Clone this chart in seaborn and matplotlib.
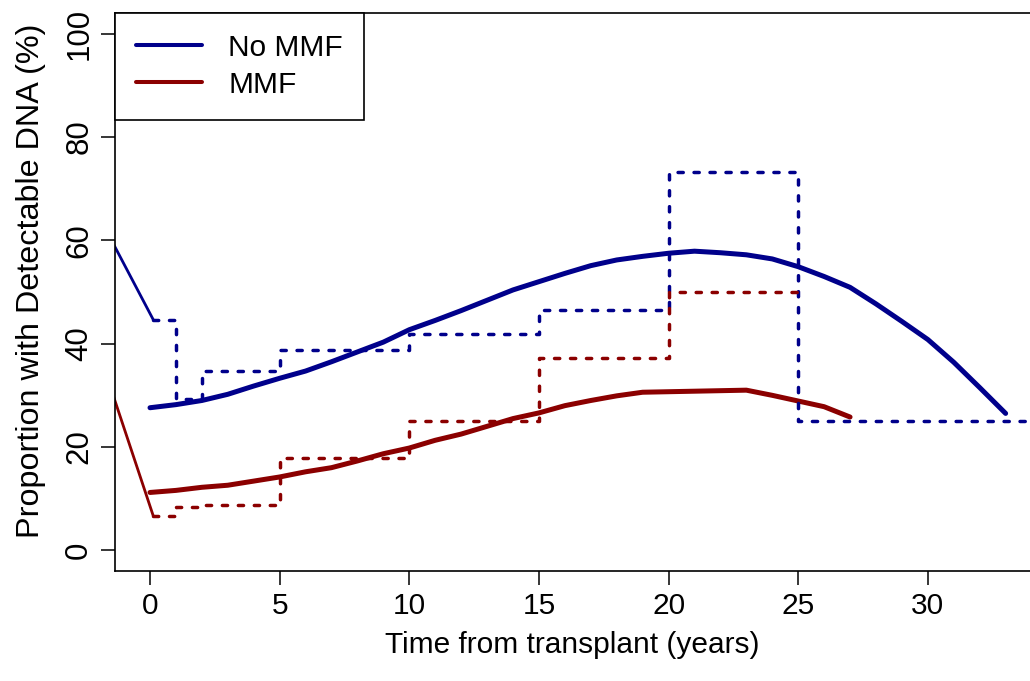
import matplotlib
matplotlib.use("Agg")
import matplotlib.pyplot as plt
import seaborn as sns
import pandas as pd
from matplotlib.lines import Line2D

# ---- data ----
years = list(range(0, 34))
no_mmf_fit = [27.6, 28.2, 29.0, 30.2, 31.8, 33.3, 34.7, 36.5, 38.4, 40.3, 42.7, 44.5,
              46.4, 48.4, 50.4, 52.0, 53.6, 55.1, 56.2, 56.9, 57.5, 57.9, 57.6, 57.2,
              56.4, 54.9, 53.0, 50.9, 47.7, 44.3, 40.8, 36.4, 31.5, 26.5]
mmf_years = list(range(0, 28))
mmf_fit = [11.2, 11.6, 12.2, 12.6, 13.4, 14.2, 15.2, 16.0, 17.3, 18.7, 19.8, 21.3,
           22.5, 24.0, 25.5, 26.6, 28.0, 29.0, 29.9, 30.6, 30.7, 30.8, 30.9, 31.0,
           30.0, 28.9, 27.8, 25.8]

no_mmf_step_x = [0.13, 1, 2, 5, 10, 15, 20, 25, 36]
no_mmf_step_y = [44.6, 29.3, 34.8, 38.8, 41.9, 46.6, 73.2, 25.0, 25.0]
mmf_step_x = [0.13, 1, 2, 5, 10, 15, 20, 25]
mmf_step_y = [6.6, 8.3, 8.8, 17.9, 25.0, 37.3, 50.0, 50.0]

no_mmf_pre_x = [-1.6, 0.13]
no_mmf_pre_y = [61.1, 44.6]
mmf_pre_x = [-1.6, 0.13]
mmf_pre_y = [32.7, 6.6]

x_ticks = [0, 5, 10, 15, 20, 25, 30]
y_ticks = [0, 20, 40, 60, 80, 100]
labels = ["No MMF", "MMF"]
BLUE = "#00008B"
RED = "#8B0000"

sns.set_style("ticks")
plt.rcParams['font.family'] = ['Liberation Sans', 'DejaVu Sans']
plt.rcParams['text.color'] = 'black'
plt.rcParams['axes.labelcolor'] = 'black'
plt.rcParams['xtick.color'] = 'black'
plt.rcParams['ytick.color'] = 'black'

fig = plt.figure(figsize=(10.3, 6.81), dpi=100)
ax = fig.add_axes([115/1030, 110/681, 915/1030, 558/681])

fit_df = pd.concat([
    pd.DataFrame({"t": years, "p": no_mmf_fit, "g": labels[0]}),
    pd.DataFrame({"t": mmf_years, "p": mmf_fit, "g": labels[1]}),
])
sns.lineplot(data=fit_df, x="t", y="p", hue="g", palette=[BLUE, RED], ax=ax,
             linewidth=3.6, legend=False, sort=False, estimator=None,
             solid_capstyle="round", solid_joinstyle="round")

for sx, sy, c in [(no_mmf_step_x, no_mmf_step_y, BLUE), (mmf_step_x, mmf_step_y, RED)]:
    sns.lineplot(x=sx, y=sy, ax=ax, color=c, linewidth=2.5, drawstyle="steps-post",
                 sort=False, estimator=None, legend=False)
    ln = ax.lines[-1]
    ln.set_linestyle((0, (1.5, 3.1)))
    ln.set_dash_capstyle("round")

for px, py, c in [(no_mmf_pre_x, no_mmf_pre_y, BLUE), (mmf_pre_x, mmf_pre_y, RED)]:
    sns.lineplot(x=px, y=py, ax=ax, color=c, linewidth=2.0, sort=False,
                 estimator=None, legend=False)

ax.set_xlim(-1.35, 33.94)
ax.set_ylim(-4, 104)
ax.set_xticks(x_ticks)
ax.set_yticks(y_ticks)
ax.set_xticklabels([str(v) for v in x_ticks], fontsize=21.5)
ax.set_yticklabels([str(v) for v in y_ticks], fontsize=22.5, rotation=90, va="center")
ax.tick_params(axis="both", direction="out", length=10, width=1.1, color="black", pad=5)
ax.set_xlabel("Time from transplant (years)", fontsize=21.5, labelpad=8)
ax.set_ylabel("Proportion with Detectable DNA (%)", fontsize=23.3)
ax.yaxis.set_label_coords(-0.075, 0.52)
for s in ["left", "bottom", "top"]:
    ax.spines[s].set_visible(True)
    ax.spines[s].set_color("black")
    ax.spines[s].set_linewidth(1.2)
ax.spines["right"].set_visible(False)

handles = [Line2D([], [], color=BLUE, lw=2.9), Line2D([], [], color=RED, lw=2.9)]
leg = ax.legend(handles, labels, loc="upper left", bbox_to_anchor=(0, 1),
                borderaxespad=0, fontsize=21.5, frameon=True, fancybox=False,
                edgecolor="black", framealpha=1, handlelength=2.2,
                handletextpad=0.9, labelspacing=0.3, borderpad=0.7)
leg.get_frame().set_linewidth(1.2)

fig.savefig("out.png", dpi=100)
